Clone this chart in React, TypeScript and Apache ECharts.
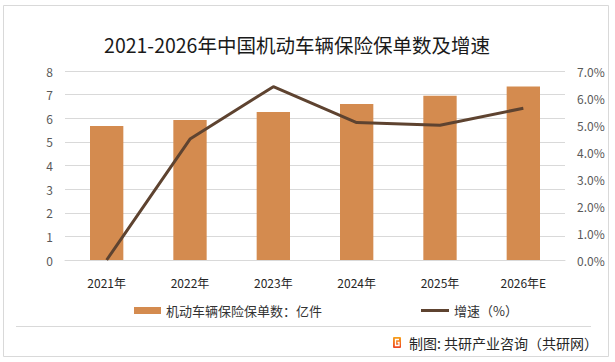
import React, { useEffect, useRef } from "react";
import * as echarts from "echarts";

const categories = ["2021年", "2022年", "2023年", "2024年", "2025年", "2026年E"];
const policyCounts = [5.67, 5.93, 6.26, 6.6, 6.95, 7.34];
const growthRates = [0, 4.48, 6.42, 5.09, 4.99, 5.62];
const leftTicks = { min: 0, max: 8, interval: 1 };
const rightTicks = { min: 0, max: 7, interval: 1 };

const BAR_NAME = "机动车辆保险保单数：亿件";
const LINE_NAME = "增速（%）";
const FONT = "'Noto Sans CJK SC', 'Microsoft YaHei', sans-serif";

export default function App() {
  const ref = useRef<HTMLDivElement>(null);
  useEffect(() => {
    if (!ref.current) return;
    const chart = echarts.init(ref.current, undefined, { renderer: "svg" });
    chart.setOption({
      animation: false,
      backgroundColor: "#ffffff",
      textStyle: { fontFamily: FONT },
      title: {
        text: "2021-2026年中国机动车辆保险保单数及增速",
        left: 292,
        textAlign: "center",
        top: 30,
        textStyle: { fontSize: 19.5, fontWeight: "normal", color: "#1a1a1a", fontFamily: FONT },
      },
      grid: { left: 65, right: 50, top: 71, bottom: 102, containLabel: false },
      legend: [
        {
          data: [BAR_NAME],
          left: 129,
          top: 299,
          icon: "rect",
          itemWidth: 27,
          itemHeight: 7,
          textStyle: { fontSize: 13, color: "#333", fontFamily: FONT },
        },
        {
          data: [LINE_NAME],
          left: 416,
          top: 299,
          icon: "rect",
          itemWidth: 28,
          itemHeight: 3,
          textStyle: { fontSize: 13, color: "#333", fontFamily: FONT },
        },
      ],
      xAxis: {
        type: "category",
        data: categories,
        axisLine: { lineStyle: { color: "#d9d9d9" } },
        axisTick: { show: false },
        axisLabel: { fontSize: 12, color: "#262626", margin: 16 },
      },
      yAxis: [
        {
          type: "value",
          ...leftTicks,
          axisLine: { show: false },
          axisTick: { show: false },
          axisLabel: { fontSize: 12, color: "#595959", margin: 12 },
          splitLine: { lineStyle: { color: "#d9d9d9" } },
        },
        {
          type: "value",
          ...rightTicks,
          axisLine: { show: false },
          axisTick: { show: false },
          axisLabel: {
            fontSize: 12,
            color: "#595959",
            margin: 12,
            formatter: (v: number) => v.toFixed(1) + "%",
          },
          splitLine: { show: false },
        },
      ],
      series: [
        {
          name: BAR_NAME,
          type: "bar",
          data: policyCounts,
          barWidth: "40%",
          itemStyle: { color: "#D48B4F" },
        },
        {
          name: LINE_NAME,
          type: "line",
          yAxisIndex: 1,
          data: growthRates,
          symbol: "none",
          lineStyle: { color: "#5E4330", width: 3 },
          itemStyle: { color: "#5E4330" },
        },
      ],
      graphic: [
        {
          type: "rect",
          shape: { x: 3.5, y: 5.5, width: 605, height: 351 },
          style: { fill: "none", stroke: "#d9d9d9", lineWidth: 1 },
          silent: true,
        },
        {
          type: "line",
          shape: { x1: 16, y1: 326.5, x2: 591, y2: 326.5 },
          style: { stroke: "#d9d9d9", lineWidth: 1 },
        },
        {
          type: "rect",
          shape: { x: 393, y: 337, width: 8, height: 11, r: 1 },
          style: {
            fill: new echarts.graphic.LinearGradient(0, 0, 0, 1, [
              { offset: 0, color: "#F7A21B" },
              { offset: 1, color: "#EE4423" },
            ]),
          },
        },
        {
          type: "polyline",
          shape: { points: [[399, 339.5], [395.5, 339.5], [395.5, 345.5], [399, 345.5], [399, 342.5], [397.5, 342.5]] },
          style: { stroke: "#ffffff", lineWidth: 1.3, fill: "none" },
        },
        {
          type: "text",
          x: 409,
          y: 343,
          style: {
            text: "制图: 共研产业咨询（共研网）",
            fontSize: 14,
            fill: "#262626",
            fontFamily: FONT,
            verticalAlign: "middle",
          },
        },
      ],
    });
    return () => chart.dispose();
  }, []);
  return (
    <div style={{ position: "fixed", left: 0, top: 0, width: 615, height: 362 }}>
      <div ref={ref} style={{ width: 615, height: 362 }} />
    </div>
  );
}
